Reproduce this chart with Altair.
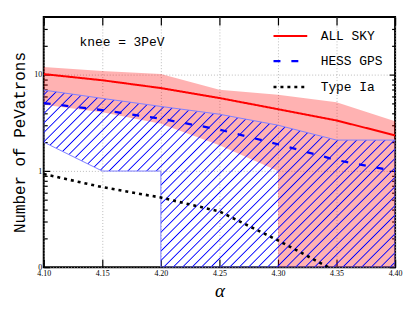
import math
import altair as alt
import pandas as pd

# ---------------- data ----------------
alpha = [4.10, 4.15, 4.20, 4.25, 4.30, 4.35, 4.40]
all_sky = [10.2, 8.8, 7.3, 5.75, 4.4, 3.36, 2.35]
all_sky_hi = [12.1, 11.0, 10.2, 7.0, 6.2, 5.2, 3.3]
all_sky_lo = [4.9, 4.1, 3.1, 1.85, 1.0, 0, 0]
hess = [5.1, 4.3, 3.5, 2.7, 1.9, 1.3, 1.0]
hess_hi = [6.95, 5.7, 4.7, 3.9, 3.0, 2.1, 2.1]
hess_lo = [2.0, 1.0, 1.0, 0, 0, 0, 0]
type_ia = [0.93, 0.68, 0.53, 0.38, 0.19, 0.09, 0]
series_names = ["ALL SKY", "HESS GPS", "Type Ia"]
series_colors = ["#ff0000", "#0000ff", "#000000"]
x_ticks = [4.10, 4.15, 4.20, 4.25, 4.30, 4.35, 4.40]
y_major = [0.1, 1, 10]
y_minor = [0.2, 0.3, 0.4, 0.5, 0.6, 0.7, 0.8, 0.9,
           2, 3, 4, 5, 6, 7, 8, 9, 20, 30]
knee_text = "knee = 3PeV"
knee_pos = (4.1305, 22.0)

W, H = 354, 252
YMIN, YMAX = 0.1, 40


def band(hi, lo):
    """Band table; a zero lower bound on a log axis drops straight down."""
    rows = []
    for i, (a, h, l) in enumerate(zip(alpha, hi, lo)):
        if l > 0:
            rows.append(dict(alpha=a, hi=h, lo=l))
            if i + 1 < len(lo) and lo[i + 1] <= 0:
                rows.append(dict(alpha=a + 1e-6, hi=h, lo=YMIN))
        else:
            rows.append(dict(alpha=a, hi=h, lo=YMIN))
    return pd.DataFrame(rows)


red_band = band(all_sky_hi, all_sky_lo)
blue_band = band(hess_hi, hess_lo)

lines = pd.DataFrame(
    [dict(alpha=a, n=v, series=s)
     for s, vals in zip(series_names, [all_sky, hess, type_ia])
     for a, v in zip(alpha, vals) if v > 0]
)

# ---------------- hatch gradient for the HESS band ----------------
def py(v):
    return H * (1 - math.log10(v / YMIN) / math.log10(YMAX / YMIN))

bw = W
bh = py(YMIN) - py(max(hess_hi))
r = bh / bw
ga = (1 + r) / (1 + r * r)
gb = r * ga
span = bw + bh                      # horizontal-equivalent span of t in [0,1]
spacing = 9.5                       # horizontal hatch spacing (px)
half = 0.9 * math.sqrt(2) / span    # half line width in t units
stops = []
t = spacing / span / 2
clear = "rgba(0,0,255,0)"
stops.append(alt.GradientStop(offset=0, color=clear))
while t < 1:
    a0 = max(0.0, t - half)
    a1 = min(1.0, t + half)
    stops.append(alt.GradientStop(offset=a0, color=clear))
    stops.append(alt.GradientStop(offset=t, color="#0000ff"))
    stops.append(alt.GradientStop(offset=a1, color=clear))
    t += spacing / span
stops.append(alt.GradientStop(offset=1, color=clear))
hatch = alt.LinearGradient(gradient="linear", stops=stops, x1=0, y1=0, x2=ga, y2=gb)

# ---------------- scales & axes ----------------
xs = alt.Scale(domain=[4.10, 4.40], nice=False, zero=False)
ys = alt.Scale(type="log", domain=[YMIN, YMAX], nice=False)

grid_kw = dict(grid=True, gridDash=[1, 2], gridColor="#aaaaaa", gridWidth=0.8)


def tick_axis(orient, values, size, offset):
    return alt.Axis(orient=orient, values=values, ticks=True, tickSize=size,
                    tickWidth=1.2, tickColor="black", labels=False, domain=False,
                    grid=False, title=None, offset=offset)


x_label_axis = alt.Axis(orient="bottom", values=x_ticks, format=".2f", ticks=False,
                        domain=False, labelFont="Liberation Serif", labelFontSize=8,
                        labelPadding=2, labelFlush=False, labelOverlap=False,
                        labelColor="black", title="α", titleFont="Liberation Serif",
                        titleFontStyle="italic", titleFontWeight="normal",
                        titleFontSize=19, titleX=W / 2, titleY=24,
                        titleBaseline="middle", titleColor="black", **grid_kw)
y_label_axis = alt.Axis(orient="left", values=y_major, ticks=False, domain=False,
                        labelExpr="datum.value < 0.5 ? '0' : format(datum.value, 'd')",
                        labelFont="Liberation Serif", labelFontSize=8, labelPadding=2,
                        labelFlush=False, labelOverlap=False, labelColor="black",
                        title="Number of PeVatrons", titleFont="Liberation Mono",
                        titleFontSize=16, titleFontWeight="normal", titleAngle=270,
                        titleX=-24, titleY=126, titleAlign="center",
                        titleBaseline="middle", titleColor="black", **grid_kw)

# ---------------- layers ----------------
pink = alt.Chart(red_band).mark_area(fill="#ff0000", fillOpacity=0.3, clip=True).encode(
    x=alt.X("alpha:Q", scale=xs, axis=x_label_axis),
    y=alt.Y("hi:Q", scale=ys, axis=y_label_axis),
    y2="lo:Q",
)

hatched = alt.Chart(blue_band).mark_area(fill=hatch, stroke="#7f7fff", strokeWidth=1,
                                         clip=True).encode(
    x=alt.X("alpha:Q", scale=xs, axis=tick_axis("top", x_ticks, 8, -H)),
    y=alt.Y("hi:Q", scale=ys, axis=tick_axis("right", y_major, 6, -W)),
    y2="lo:Q",
)

color_sc = alt.Scale(domain=series_names, range=series_colors)
dash_sc = alt.Scale(domain=series_names, range=[[1, 0], [7, 11], [3, 4]])
width_sc = alt.Scale(domain=series_names, range=[2, 2.6, 3])

legend = alt.Legend(title=None, orient="none", legendX=230, legendY=1,
                    labelFont="Liberation Mono", labelFontSize=13, labelColor="black",
                    symbolSize=1156, symbolType="stroke", labelOffset=12,
                    rowPadding=-2, padding=0)


def series_layer(name, x_axis, y_axis, show_legend):
    lg = legend if show_legend else None
    return alt.Chart(lines).transform_filter(alt.datum.series == name).mark_line(
        clip=True, strokeCap="butt").encode(
        x=alt.X("alpha:Q", scale=xs, axis=x_axis),
        y=alt.Y("n:Q", scale=ys, axis=y_axis),
        color=alt.Color("series:N", scale=color_sc, legend=lg),
        strokeDash=alt.StrokeDash("series:N", scale=dash_sc, legend=lg),
        strokeWidth=alt.StrokeWidth("series:N", scale=width_sc, legend=lg),
    )


red_line = series_layer("ALL SKY", tick_axis("bottom", x_ticks, 8, -H),
                        tick_axis("left", y_major, 6, -W), True)
blue_line = series_layer("HESS GPS", None, tick_axis("right", y_minor, 3.5, -W), False)
dot_line = series_layer("Type Ia", None, tick_axis("left", y_minor, 3.5, -W), False)

knee = alt.Chart(pd.DataFrame([dict(alpha=knee_pos[0], n=knee_pos[1], t=knee_text)])).mark_text(
    align="left", baseline="middle", font="Liberation Mono", fontSize=13, color="black"
).encode(
    x=alt.X("alpha:Q", scale=xs, axis=None),
    y=alt.Y("n:Q", scale=ys, axis=None),
    text="t:N",
)

chart = alt.layer(pink, hatched, red_line, blue_line, dot_line, knee).resolve_axis(
    x="independent", y="independent"
).properties(
    width=W, height=H,
    autosize=alt.AutoSizeParams(type="none"),
    padding={"left": 36, "top": 8, "right": 12, "bottom": 36},
).configure_view(stroke="black", strokeWidth=2)

chart.save("out.html", embed_options={"renderer": "svg", "actions": False})
